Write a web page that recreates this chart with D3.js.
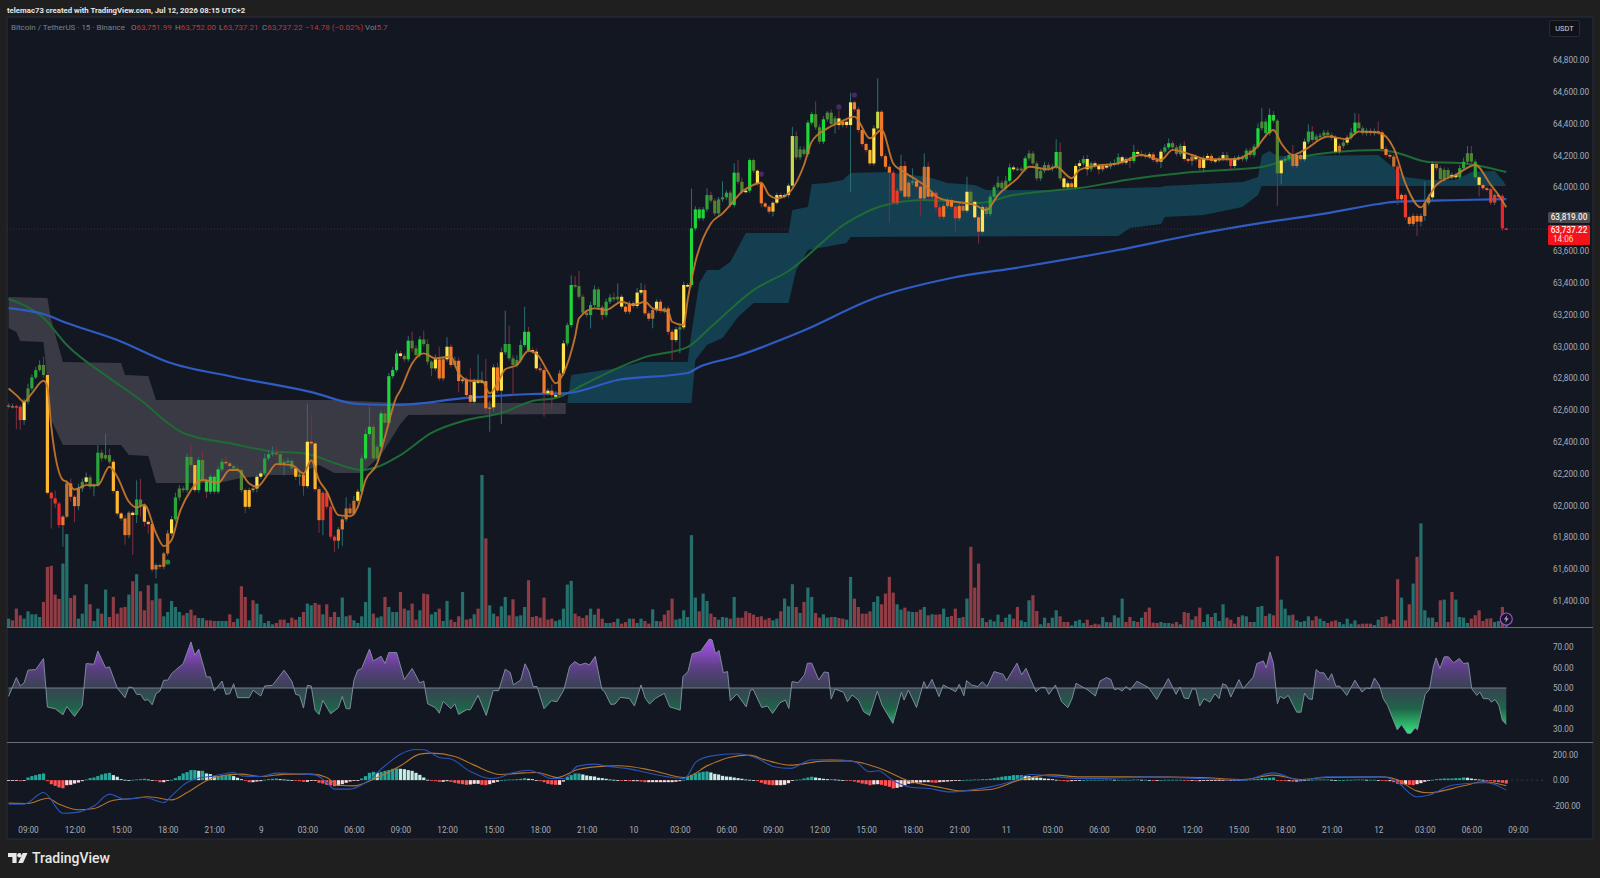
<!DOCTYPE html>
<html>
<head>
<meta charset="utf-8">
<title>BTCUSDT 15m</title>
<script src="https://cdn.jsdelivr.net/npm/d3@7"></script>
<style>
  html, body { margin: 0; padding: 0; background: #1f1f1f; }
  svg { display: block; }
  text { font-family: Roboto, "Noto Sans", sans-serif; }
</style>
</head>
<body>
<svg id="chart" width="1600" height="878"></svg>
<script>
// ---- 15-minute candles, one value per bar ----
const closes = [
62625,62625,62621,62537,62652,62736,62805,62851,62883,62820,
62080,62045,62013,61877,61930,62139,62055,61996,62107,62149,
62177,62118,62128,62332,62296,62317,62275,62091,61950,61919,
61814,61955,61940,62038,61996,61898,61883,61598,61626,61615,
61699,61825,61913,62051,62107,62097,62306,62254,62097,62286,
62160,62087,62181,62087,62227,62275,62265,62248,62233,62223,
62097,61992,62097,62107,62181,62202,62296,62323,62332,62323,
62260,62275,62281,62233,62181,62195,62122,62401,62390,62103,
61908,62080,61992,61804,61779,61850,61913,61982,61950,62030,
62087,62296,62449,62495,62296,62369,62579,62520,62813,62851,
62956,62940,62919,63036,62988,62946,63044,63015,62904,62862,
62919,62799,62919,62998,62883,62910,62782,62793,62694,62652,
62778,62782,62782,62611,62617,62868,62722,62963,63015,62925,
62883,62914,63009,63092,62977,62967,62862,62851,62705,62722,
62694,62694,62831,63019,63134,63386,63379,63312,63212,63197,
63260,63358,63245,63197,63281,63308,63296,63312,63250,63218,
63270,63254,63338,63354,63208,63174,63229,63281,63224,63239,
63092,63040,63107,63120,63386,63386,63742,63861,63805,63861,
63951,63916,63836,63924,63937,63966,63889,64092,64035,63972,
63979,64171,64104,64025,63899,63878,63847,63903,63951,63941,
63951,64010,64322,64188,64238,64209,64406,64460,64377,64287,
64427,64469,64398,64433,64391,64412,64391,64534,64490,64360,
64272,64234,64150,64370,64475,64196,64129,64092,63903,63979,
64134,63941,64029,64039,64004,63930,64129,63941,63966,63874,
63815,63882,63920,63878,63805,63882,63853,63972,63909,63811,
63721,63874,63832,63941,64000,64029,63993,64041,64125,64113,
64117,64113,64182,64213,64150,64056,64104,64140,64119,64129,
64222,64056,64000,64025,64000,64134,64151,64178,64113,64151,
64134,64113,64134,64130,64147,64151,64189,64155,64176,64166,
64222,64210,64203,64193,64207,64172,64161,64224,64251,64277,
64251,64210,64260,64178,64166,64193,64176,64122,64184,64197,
64166,64172,64180,64203,64176,64134,64182,64187,64176,64231,
64203,64256,64371,64413,64340,64455,64419,64088,64168,64180,
64203,64134,64203,64176,64287,64350,64298,64319,64325,64344,
64329,64312,64224,64260,64281,64312,64344,64407,64371,64340,
64356,64340,64354,64344,64241,64203,64193,64130,63925,63952,
63812,63770,63820,63784,63820,63900,63937,64147,64120,64050,
64109,64063,64078,64063,64120,64161,64214,64161,64063,64015,
63994,63988,63904,63952,63946,63742,63737];
const firstOpen = 62630;

// how far the high sits above the body, in USDT
const wickUp = [
15,15,10,10,20,30,20,20,30,52, 10,10,50,10,10,20,30,10,30,20,
30,15,10,48,20,135,40,15,10,10, 20,10,10,120,130,20,10,10,10,10,
10,20,20,30,20,15,20,85,20,20, 60,15,15,15,20,20,35,15,20,20,
15,10,15,10,15,15,30,25,40,40, 15,15,20,15,20,25,15,240,170,15,
15,10,10,10,10,15,15,70,30,30, 15,20,30,126,20,15,20,25,20,20,
20,15,15,30,57,20,20,55,30,10, 30,80,20,60,15,25,20,10,15,168,
20,168,60,140,40,20,30,30,210,115, 20,30,30,157,30,15,20,30,15,15,
40,25,20,20,15,60,55,95,15,15, 20,25,15,15,20,20,30,84,15,20,
15,15,30,45,35,15,15,15,15,10, 15,15,15,20,20,10,250,20,15,15,
42,20,15,15,100,15,15,60,80,25, 15,10,10,10,10,10,10,10,15,15,
10,15,58,30,20,20,15,15,80,20, 20,10,20,15,50,15,15,61,10,15,
15,10,10,20,210,10,15,15,15,15, 70,30,15,80,15,15,84,30,15,15,
15,15,15,15,15,15,15,95,15,15, 15,15,15,15,15,40,15,30,25,15,
10,10,15,20,15,15,15,20,15,15, 80,60,15,15,15,15,20,20,25,10,
15,15,15,15,15,25,25,10,15,15, 45,15,20,15,15,15,15,15,20,30,
15,15,15,30,10,15,15,15,15,15, 15,10,15,20,20,10,15,15,15,15,
15,15,30,84,20,40,25,10,10,15, 15,63,15,15,20,45,35,15,15,15,
15,15,15,15,15,15,30,60,55,15, 15,15,15,60,15,15,15,15,10,10,
10,10,15,15,15,136,20,15,15,15, 15,15,15,15,20,25,45,45,15,10,
15,10,10,10,10,10,5];

// how far the low sits below the body, in USDT
const wickDown = [
15,15,142,60,30,15,15,10,10,15, 10,190,30,20,135,10,30,100,25,20,
15,15,60,10,20,10,15,15,15,15, 60,20,250,50,65,30,60,15,56,15,
15,15,15,15,20,15,15,15,15,15, 15,40,15,15,15,15,15,15,15,15,
15,40,15,15,25,15,15,15,15,15, 25,70,15,20,20,55,60,15,15,15,
80,95,15,15,70,50,105,15,15,15, 15,15,15,15,15,15,15,15,15,15,
15,15,15,15,20,15,15,15,20,50, 15,15,15,15,15,15,70,15,15,30,
15,15,15,30,147,30,15,210,15,15, 190,15,15,15,15,15,15,15,147,15,
90,15,15,15,15,15,15,15,15,15, 84,15,15,30,15,15,15,15,15,15,
15,15,15,15,15,15,60,15,15,15, 20,126,15,150,15,15,15,15,15,15,
15,15,15,15,15,15,15,15,15,15, 10,15,15,15,25,10,15,30,10,10,
10,15,15,15,15,15,15,15,15,15, 15,15,15,60,30,15,20,420,15,15,
15,15,15,15,15,15,15,315,15,15, 15,15,15,15,15,110,15,15,15,30,
20,15,15,15,84,15,15,15,20,15, 74,15,15,15,15,15,15,15,15,15,
10,15,15,15,15,15,15,15,15,20, 15,15,15,15,15,15,15,15,40,15,
15,30,15,15,15,15,15,15,15,45, 15,15,15,15,15,15,15,40,15,15,
15,15,15,15,15,30,15,15,30,15, 15,15,15,15,15,20,15,15,15,15,
15,15,15,15,30,15,15,205,70,15, 15,15,15,15,15,15,15,15,15,15,
15,15,15,15,15,15,15,15,15,15, 15,15,15,15,15,15,15,15,35,15,
15,15,15,90,30,30,15,15,15,15, 15,15,15,15,15,15,15,15,15,73,
15,15,15,15,15,15,3];

// momentum shade of each candle: G strong up, g up, d fading, l lime, y yellow,
// a amber, o orange, b muted orange, r red, R strong red
const candleTones =
"drrrydggdd"+"arrRoboobd"+"yddgdddaaa"+"obygdaaobb"+"bbygddgdaG"+"dGGGGgbbdd"+"daaoyyggdd"+"ddgdadoyoa"+"orrRroobbb"+"ygGGddGdGG"+
"GydGddGddd"+"yooyoboooo"+"yyyobyoygg"+"ddgGGyyboy"+"oybygGdddd"+"gggbggddyo"+"oyyyoobyob"+"ooydyyGGGG"+"gddddgdGdd"+"yGdyoooayy"+
"yyldddGGdd"+"Gdddyoyyoo"+"ooaylooorr"+"bobdooboor"+"roborobydy"+"oydggdddGy"+"ddGddddddd"+"Gdyyoyygyd"+"yyoydbgyyo"+"GydoyooygG"+
"dddyobyoyy"+"oyyydryydg"+"dgGdgGGdyd"+"gbobyggddd"+"ddybdygGdd"+"ddddaoobro"+"roooobbybd"+"ddyyggddgy"+"oorroRR";

// ---- traded volume per bar: positive on rising bars, negative on falling bars ----
const signedVolumes = [
25,-20,-55,-35,25,47,38,38,30,-75, -180,-183,-97,-84,190,278,-87,-95,25,40,
128,-68,18,55,-40,112,-30,-90,-40,-58, -60,97,-137,158,-107,-50,-125,-80,130,-85,
32,45,78,60,45,-35,42,-52,-35,27, 27,-20,-20,-18,18,18,18,-38,-15,25,
-122,-90,20,-80,70,38,12,18,8,-12, -22,-22,12,-28,-22,30,-45,70,65,-72,
-67,38,-68,-30,-45,30,88,32,-35,20, 12,32,75,178,-40,28,32,-90,60,45,
45,-105,-55,50,-70,-22,50,-100,-98,38, 45,-55,18,78,-22,-15,-32,105,-22,-25,
38,-55,455,-265,65,40,-32,62,90,-35, -83,32,35,60,-140,-30,-33,-28,-88,-22,
-25,18,22,55,127,138,-40,-32,-27,-35, 55,37,-55,-25,12,12,-15,25,-10,-15,
25,-25,12,25,-18,-10,53,18,-17,-37, -50,-85,22,25,50,30,275,88,-47,100,
78,-40,-30,22,30,28,-25,90,-28,-28, -47,-42,-37,-30,-32,-22,-27,20,25,-47,
85,62,128,-60,42,-75,118,90,-42,-28, 38,28,-30,30,-27,-25,22,150,-85,-60,
-40,-40,-47,75,92,-68,-100,-150,-103,68, 52,-58,47,45,-45,-52,60,-35,38,-37,
-38,55,30,-33,-55,27,-30,85,-240,-118, -190,27,-15,22,17,37,-15,28,38,-25,
-60,20,15,80,-95,-48,8,28,-12,28, 50,-32,-15,-15,5,18,22,12,-22,-6,
-10,-8,30,15,-14,35,28,85,-15,-30, 18,-15,28,-45,-58,-13,-12,15,12,12,
-10,-15,8,-45,-42,22,-32,-58,15,38, -30,42,18,68,-28,-22,-10,-30,35,32,
-15,15,60,63,-33,40,-35,-212,82,55, 35,-37,20,15,18,32,-20,-32,25,18,
-12,-17,-20,15,8,25,10,20,-8,-10, -10,-10,6,22,-30,-32,-10,-22,-143,88,
-20,-68,130,-210,310,50,28,28,-15,-80, 82,-15,-105,82,30,28,12,-25,-35,-50,
-18,-25,-26,15,18,-60,10];

// ---- moving averages, as [bar, price] readings ----
const slowAverage = [[0,63241],[9,63204],[15,63147],[28,63040],[41,62902],[58,62808],[78,62713],[90,62638],[100,62632],[118,62676],[135,62701],[144,62707],[157,62789],[175,62833],[178,62871],[187,62933],[204,63090],[224,63310],[243,63430],[261,63499],[286,63606],[305,63700],[323,63776],[340,63838],[353,63895],[357,63908],[374,63920],[386,63926]];

const midAverage = [[0,63298],[9,63178],[15,63009],[26,62801],[35,62644],[41,62519],[45,62456],[58,62387],[67,62343],[77,62324],[84,62267],[91,62223],[95,62242],[101,62317],[109,62456],[118,62537],[127,62581],[135,62657],[141,62676],[149,62770],[157,62864],[164,62933],[175,62996],[181,63122],[192,63354],[201,63474],[216,63776],[225,63882],[236,63920],[250,63901],[259,63951],[268,63977],[276,63995],[288,64046],[305,64096],[323,64128],[331,64184],[353,64234],[357,64222],[366,64159],[374,64153],[386,64096]];

const fastAverage = [[0,62736],[2,62694],[4,62652],[6,62705],[9,62784],[10,62746],[11,62495],[14,62160],[15,62149],[17,62101],[20,62128],[23,62128],[26,62244],[28,62181],[31,62024],[33,61988],[35,62003],[38,61825],[40,61745],[42,61783],[44,61950],[47,62097],[50,62160],[54,62143],[57,62223],[59,62223],[62,62139],[64,62118],[67,62202],[69,62260],[73,62254],[76,62202],[78,62285],[80,62160],[82,62087],[85,61940],[88,61933],[90,61992],[92,62160],[95,62265],[97,62432],[100,62684],[101,62726],[104,62893],[107,62956],[110,62925],[114,62935],[116,62831],[119,62784],[122,62784],[124,62705],[126,62768],[128,62856],[131,62883],[134,62973],[136,62956],[139,62841],[141,62768],[143,62831],[146,63061],[147,63176],[151,63239],[154,63229],[158,63281],[161,63260],[164,63281],[166,63239],[170,63218],[171,63155],[174,63134],[175,63291],[177,63530],[181,63773],[184,63836],[186,63889],[189,63972],[191,64004],[194,64029],[196,63951],[198,63930],[201,63962],[205,64140],[207,64287],[211,64370],[214,64406],[218,64444],[222,64308],[225,64360],[228,64150],[230,64108],[233,64062],[236,64014],[240,63930],[244,63909],[249,63889],[252,63857],[255,63951],[260,64056],[263,64129],[268,64113],[270,64129],[274,64057],[276,64109],[280,64134],[286,64151],[292,64203],[297,64172],[300,64235],[305,64203],[309,64176],[316,64176],[321,64235],[326,64360],[328,64277],[331,64203],[334,64235],[340,64319],[345,64302],[348,64350],[353,64344],[357,64245],[360,64025],[364,63874],[366,63941],[368,64015],[373,64078],[378,64140],[382,64015],[384,63952],[386,63874]];

// ---- trend cloud edges, as [bar, price] readings ----
const bearCloudUpper = [[0,63310],[10,63304],[11,63166],[14,62902],[29,62896],[30,62820],[36,62814],[38,62663],[84,62663],[101,62644],[143.6,62644]];
const bearCloudLower = [[0,63116],[2,63090],[3,63034],[9,63028],[11,62537],[14,62380],[29,62380],[31,62317],[36,62311],[38,62142],[54,62142],[60,62173],[67,62192],[74,62192],[80,62255],[84,62204],[91,62204],[96,62317],[101,62512],[103,62569],[143.6,62575]];
const bullCloudUpper = [[144,62644],[145,62820],[157,62864],[163,62902],[175,62902],[176,63084],[178,63398],[180,63480],[183,63480],[186,63530],[190,63713],[201,63713],[202,63857],[206,63876],[207,64021],[211,64027],[215,64046],[217,64090],[226,64096],[237,64065],[242,64027],[249,64014],[252,63983],[271,63983],[297,64002],[298,64008],[318,64033],[322,64065],[323,64203],[325,64228],[327,64197],[353,64203],[357,64121],[360,64065],[366,64046],[373,64046],[377,64096],[383,64103],[385,64046],[386,64008]];
const bullCloudLower = [[144,62644],[176,62644],[177,62915],[180,63009],[184,63053],[188,63185],[192,63273],[201,63273],[203,63480],[206,63606],[216,63650],[217,63688],[286,63694],[289,63744],[297,63769],[298,63813],[308,63826],[318,63876],[322,63952],[323,64008],[386,64008]];

// swing markers printed by the overlay
const swingHighs = [[194,64083],[214,64505],[218,64580]];
const swingLows = [[41,61645]];

// ---- RSI, as [bar, value] turning points ----
const rsiPoints = [[0,45.9],[2,55.1],[3,51],[4,52.5],[5,58.7],[7,59],[9,64.4],[10,40.7],[12,39.9],[14,36.9],[15,41],[17,36.1],[19,41.5],[20,61.9],[22,61.6],[23,68],[25,59.8],[26,60.3],[28,50],[30,45.3],[31,50.5],[32,50.2],[33,46.9],[34,46.9],[35,44],[36,44.3],[37,41.8],[38,47.2],[39,48.5],[40,53.8],[41,53.8],[42,57],[43,58.7],[45,61.9],[47,72.5],[48,66],[49,69],[51,55.4],[52,55.4],[53,48.5],[55,53.4],[56,46.9],[57,47.2],[58,52.1],[59,45.3],[62,45.3],[63,48.9],[65,46.1],[66,51],[68,51.3],[71,58.7],[73,53.3],[74,46.9],[75,46.4],[76,40.2],[77,51.3],[78,51],[79,39.1],[80,37.1],[81,44],[83,37.4],[85,40.4],[86,45.9],[87,39.9],[88,39.9],[89,53.8],[90,58.7],[91,59.5],[93,69],[94,63.2],[96,65.5],[97,61.9],[98,67.3],[100,67.3],[102,54.1],[104,59.5],[106,52.5],[107,53.4],[108,42.3],[110,40.4],[111,37.7],[112,43.5],[114,39.9],[115,42.3],[116,37.1],[118,39.4],[119,39.4],[121,46.4],
[123.1,36.6],[124.9,48.7],[126.3,48.7],[128,59.2],[129.3,57.5],[130.1,51.5],[132,53.9],[133.1,61.8],[134.1,58],[135.2,50.7],[136.2,50.7],[138,39.9],[139.9,43.8],[141.3,43.3],[143.1,49],[144.6,60.5],[145.9,62.9],[147.2,61.3],[148.7,62.1],[149.7,61.3],[151.2,65.4],[152.9,49.3],[153.6,48.2],[155.2,42],[156.3,42.2],[157.7,45.4],[160,44.9],[161.3,41.2],[163,51.5],[164.1,44.9],[165.2,42.2],[166.7,44.9],[169,47.4],[170.4,40.8],[173.1,39.2],[173.8,55.6],[175.1,58],[176.2,66.7],[178.3,67.8],[180.6,73.9],[181.3,73.5],[182.2,66.7],[183.1,68.3],[184.2,57.5],[185.3,58],[186,43.8],[187.7,47.1],[190.1,40.8],[191.2,49],[191.9,49.3],[194.1,40.5],[195.6,41.2],[196.9,37.6],[198.8,42.8],[200.2,44.1],[201.1,40],[201.9,53.1],[203.5,52.6],[205.1,56.4],[205.9,62.1],[207,62.1],[208.8,53.9],[210.2,57.8],[211.3,57.5],[212,44.6],[213,49.5],[215.2,47.9],[216.2,43.3],[217.4,46.6],[219,44.1],[220.4,38.4],[221.9,36.6],[223.9,48.5],[225.1,41.7],[227.9,32.7],[230.1,47.9],[230.8,44.1],[231.9,49],[234,40.5],[235.9,53.1],[236.7,49.8],[238,54.2],[239.8,45.8],[240.9,51.5],[244.1,48.2],[245,51.8],[246.2,46.2],[246.9,53.6],[248.2,51.5],[249.8,50.7],[250.9,53.1],[252.2,50.7],[254,58],[256.3,56.7],[257.2,53.6],[259.9,62.1],[261.1,56.4],[262.2,59.6],[264.8,48.2],[266.1,50.3],[267.2,50.3],[268.1,46.9],[269.8,51.5],[271.4,43.3],[273,40.4],[274.1,44.9],[275.1,52.3],[278.2,49],[280.1,46.1],
[281.3,53.4],[283,55.1],[284.1,54.1],[285,49.2],[286,49.7],[287,48.5],[288,50.8],[289,48.9],[290.8,53.3],[293.8,50.2],[295.9,44.4],[298.9,54.6],[300.9,46.9],[301.9,50.5],[303,45.1],[304.1,44.8],[305.1,49.7],[306,49.3],[307,41.2],[308.1,44.8],[309.6,43.1],[310.9,47.2],[312,44.8],[312.9,52.1],[313.9,51.3],[315,45.6],[317.1,54.1],[318.2,49.7],[320.8,55.4],[321.7,61.9],[323.4,63.2],[324.1,59.8],[325.1,67.6],[326,61.9],[327,42.3],[327.7,45.9],[328.7,44.8],[329.8,46.4],[332,38.2],[333.1,38.2],[334,47.5],[335,44.8],[336,44.4],[337,59],[338,57.4],[339,57.4],[340.1,53.8],[341,57],[342.1,50.8],[343,51],[344.9,46.4],[347,53.8],[348.8,48],[350,50],[351,49.7],[352,54.9],[353.3,51.3],[354.3,44.8],[355.4,41.5],[357.9,29.6],[359,32.2],[360.5,27.9],[361.4,27.9],[362.5,30.6],[363.1,29.6],[365.1,46.9],[366.2,49.3],[367.2,60.3],[367.9,64.7],[368.9,59.5],[370,65.2],[371.1,65.2],[372.4,62.3],[373.9,64.4],[375,61.9],[376.2,62.3],[377.1,49.7],[378.4,46.4],[379.2,48],[380.1,44.8],[381.4,44.8],[382.2,43.1],[383.1,44.4],[384.1,41.5],[385,34.2],[386,32.2]];

// ---- MACD line, signal line and histogram ----
const macdLine = [[0,-190],[4,-190],[9,-98],[14,-262],[17,-257],[22,-204],[26,-111],[30,-151],[35,-138],[40,-177],[42,-124],[46,-19],[48,8],[53,34],[58,61],[60,34],[65,29],[69,56],[73,53],[79,42],[82,-19],[84,-71],[88,-71],[92,-19],[97,114],[101,206],[105,243],[107,241],[111,180],[114,167],[119,69],[124.1,13],[126.3,19],[129.9,58],[133.9,79],[136.8,53],[139.9,13],[143.1,13],[146.7,111],[151,127],[154.1,111],[159.3,93],[164.6,58],[169.9,26],[174.2,13],[177.2,145],[180.9,190],[187.8,209],[193,172],[197.3,106],[201.5,93],[206.7,159],[212,164],[218.2,145],[221.9,66],[224.1,74],[227.8,0],[233,-58],[237.2,-66],[242.5,-93],[247.7,-79],[253,-53],[258.3,-13],[263.5,45],[268.8,32],[276.2,13],[281.3,13],[293.3,26],[307,13],[318.2,0],[326,58],[332.8,0],[339.7,26],[354.3,26],[357.8,-13],[362.9,-132],[365.9,-119],[371.5,-45],[375.8,-26],[380.9,-21],[386,-79]];

const signalLine = [[0,-182],[5,-185],[10,-143],[13,-190],[18,-235],[22,-225],[27,-159],[32,-145],[36,-132],[42,-156],[46,-98],[51,-5],[54,29],[60,48],[65,29],[72,48],[78,48],[82,21],[85,-40],[89,-45],[94,8],[101,114],[106,206],[109,214],[115,188],[120,119],[126.8,45],[133,58],[136.2,61],[141.5,21],[146.7,85],[154.1,111],[157.3,114],[165.7,79],[174.2,21],[180.4,119],[185.7,180],[190.9,198],[195.1,159],[201.5,119],[209.9,151],[216.2,153],[224.6,93],[231.9,-5],[239.3,-53],[245.6,-85],[253,-74],[260.4,0],[268.8,42],[276.2,26],[281.3,26],[293.3,26],[307,21],[318.2,5],[326,40],[332.8,5],[339.7,21],[354.3,26],[357.8,5],[362.9,-85],[365.9,-100],[375,-45],[380.1,-13],[386,-45]];

const macdHistogram = [
-5,-5,-5,-8,-3,21,32,40,48,53, -8,-32,-45,-58,-64,-40,-37,-27,-19,-8,
5,16,21,32,45,53,58,40,27,8, 3,0,3,5,8,11,5,0,-5,-16,
-16,-5,3,16,32,53,64,80,80,74, 74,53,48,32,32,37,37,40,32,19,
8,-5,-16,-16,-11,-8,3,8,11,13, 8,5,3,0,-3,-8,-13,-13,-5,-3,
-21,-27,-37,-42,-48,-45,-32,-21,-11,-3, -3,13,32,58,66,58,66,74,80,90,
93,90,87,80,74,58,42,21,3,-3, -8,-13,-13,-8,-13,-21,-27,-32,-37,-34,
-29,-29,-37,-40,-32,-21,-13,0,3,5, 5,8,11,16,11,8,0,-8,-16,-29,
-34,-37,-37,-11,27,40,53,53,45,37, 32,29,19,16,11,5,3,0,-5,-5,
-8,-8,-8,-11,-16,-16,-16,-16,-16,-16, -16,-16,-13,-8,3,27,42,53,61,66,
69,61,50,45,34,29,27,21,16,11, 5,3,0,-8,-21,-32,-37,-40,-40,-40,
-37,-24,-3,3,5,13,21,27,21,16, 11,8,8,5,3,0,-3,-5,-11,-19,
-27,-32,-40,-34,-32,-37,-45,-53,-66,-61, -53,-42,-29,-24,-21,-19,-16,-16,-19,-21,
-16,-13,-11,-8,-5,-3,0,3,3,5, 5,8,8,11,16,21,27,32,34,40,
40,40,34,32,24,21,19,13,11,8, 3,-3,-8,-11,-8,-5,-3,0,3,3,
3,3,3,5,5,3,3,3,3,3, 5,5,3,3,0,-3,-3,0,3,3,
3,3,3,-3,-5,-5,-8,-8,-5,-5, -5,-5,-3,-3,-5,-5,-3,-3,0,3,
5,8,11,16,16,19,21,-3,-5,-8, -8,-11,-11,-8,-3,0,3,5,5,5,
5,3,0,0,0,3,3,5,5,5, 3,3,3,0,-5,-8,-8,-16,-29,-34,
-34,-37,-40,-32,-24,-13,-5,3,8,11, 13,13,13,16,16,21,19,13,8,5,
3,-3,-8,-13,-16,-21,-27];

// ---- axis labels ----
const priceTicks = d3.range(61400, 64801, 200).filter(p => p !== 63800);
const rsiTicks = [70, 60, 50, 40, 30];
const macdTicks = [200, 0, -200];
const timeLabels = ["09:00","12:00","15:00","18:00","21:00","9","03:00","06:00","09:00","12:00","15:00","18:00","21:00","10","03:00","06:00","09:00","12:00","15:00","18:00","21:00","11","03:00","06:00","09:00","12:00","15:00","18:00","21:00","12","03:00","06:00","09:00"];
const firstTimeTickBar = 5, barsPerTimeTick = 12;

// ---- text strip above the price pane ----
const symbolTitle = "Bitcoin / TetherUS · 15 · Binance";
const ohlcLegend = [["O","63,751.99",131],["H","63,752.00",175],["L","63,737.21",219],["C","63,737.22",262]];
const changeLegend = "−14.78 (−0.02%)";
const volumeLegend = "5.7";
const lastPrice = 63737.22, closeMarker = 63819;

const toneColor = {G:"#1fd63b", g:"#2aa53a", d:"#4f8636", l:"#c6d84c", y:"#ffe44f", a:"#ffb730",
                   o:"#f37a2b", b:"#c27432", r:"#e93b2b", R:"#e9222b"};

// ---- layout and scales ----
const frame = {left: 7, right: 1593, top: 17, bottom: 839};
const svg = d3.select("#chart");

const x = d3.scaleLinear().domain([0, 386]).range([8.6, 8.6 + 386 * 3.88]);
const yPrice = d3.scaleLinear().domain([61400, 64800]).range([601, 60]);
const yVolume = d3.scaleLinear().domain([0, 455]).range([627, 475]);
const yRsi = d3.scaleLinear().domain([30, 70]).range([729, 647]);
const yMacd = d3.scaleLinear().domain([-200, 200]).range([805.4, 754.9]);

const opens = closes.map((c, i) => i ? closes[i - 1] : firstOpen);
const bars = closes.map((c, i) => {
  const o = opens[i];
  return {i, o, c, h: Math.max(o, c) + wickUp[i], l: Math.min(o, c) - wickDown[i], tone: candleTones[i]};
});

// backgrounds and pane rules
svg.append("rect").attr("width", 1600).attr("height", 878).attr("fill", "#1f1f1f");
svg.append("rect").attr("x", frame.left).attr("y", frame.top)
   .attr("width", frame.right - frame.left).attr("height", frame.bottom - frame.top)
   .attr("fill", "#131722").attr("stroke", "#2a2e39").attr("stroke-width", 1);
[627.5, 742.5].forEach(yy => svg.append("line").attr("x1", frame.left).attr("x2", frame.right)
   .attr("y1", yy).attr("y2", yy).attr("stroke", "#6a6d78").attr("stroke-width", 1.2));

// volume columns along the floor of the price pane
svg.append("g").selectAll("rect").data(signedVolumes).join("rect")
   .attr("x", (v, i) => x(i) - 1.6).attr("width", 3.2)
   .attr("y", v => yVolume(Math.abs(v)))
   .attr("height", v => yVolume(0) - yVolume(Math.abs(v)))
   .attr("fill", v => v >= 0 ? "#25706c" : "#8f3c44");

// trend cloud
const priceLine = d3.line().x(d => x(d[0])).y(d => yPrice(d[1]));
const cloud = svg.append("g");
cloud.append("path").attr("d", priceLine(bearCloudUpper.concat(bearCloudLower.slice().reverse())) + "Z").attr("fill", "#393a44");
cloud.append("path").attr("d", priceLine(bullCloudUpper.concat(bullCloudLower.slice().reverse())) + "Z").attr("fill", "#143f50");

// slower averages sit behind the candles
const smoothLine = d3.line().x(d => x(d[0])).y(d => yPrice(d[1])).curve(d3.curveMonotoneX);
svg.append("path").attr("d", smoothLine(midAverage)).attr("fill", "none").attr("stroke", "#1f6b35").attr("stroke-width", 2);
svg.append("path").attr("d", smoothLine(slowAverage)).attr("fill", "none").attr("stroke", "#2e5cc2").attr("stroke-width", 2.2);

// last-price guide
svg.append("line").attr("x1", frame.left).attr("x2", 1548).attr("y1", yPrice(lastPrice)).attr("y2", yPrice(lastPrice))
   .attr("stroke", "#4d2a33").attr("stroke-width", 1).attr("stroke-dasharray", "1,2");

// candles
const candleG = svg.append("g");
candleG.selectAll("line").data(bars).join("line")
   .attr("x1", d => x(d.i)).attr("x2", d => x(d.i))
   .attr("y1", d => yPrice(d.h)).attr("y2", d => yPrice(d.l))
   .attr("stroke", d => d.c >= d.o ? "#2c6e72" : "#7c3042").attr("stroke-width", 1);
candleG.selectAll("rect").data(bars).join("rect")
   .attr("x", d => x(d.i) - 1.6).attr("width", 3.2)
   .attr("y", d => yPrice(Math.max(d.o, d.c)))
   .attr("height", d => Math.max(1.6, Math.abs(yPrice(d.o) - yPrice(d.c))))
   .attr("fill", d => toneColor[d.tone]);

// swing markers
svg.append("g").selectAll("circle").data(swingHighs).join("circle")
   .attr("cx", d => x(d[0])).attr("cy", d => yPrice(d[1])).attr("r", 2.6).attr("fill", "#4b2668");
svg.append("g").selectAll("circle").data(swingLows).join("circle")
   .attr("cx", d => x(d[0])).attr("cy", d => yPrice(d[1])).attr("r", 2.6).attr("fill", "#1e8a40");

// fast average runs over the candles
svg.append("path").attr("d", smoothLine(fastAverage)).attr("fill", "none").attr("stroke", "#c9782c").attr("stroke-width", 1.9).attr("stroke-opacity", 0.92);

// alert badge at the last bar
const badge = svg.append("g").attr("transform", `translate(${x(386)},619)`);
badge.append("circle").attr("r", 6).attr("fill", "#131722").attr("stroke", "#9a4fc4").attr("stroke-width", 1.2);
badge.append("path").attr("d", "M1-4L-2.4 0.6H-0.3L-1 4L2.4-0.8H0.3Z").attr("fill", "#b98ad6");

// RSI pane: gradient runs through the 50 line from purple to green
const defs = svg.append("defs");
const rsiGradient = defs.append("linearGradient").attr("id", "rsiFill")
   .attr("gradientUnits", "userSpaceOnUse").attr("x1", 0).attr("x2", 0)
   .attr("y1", yRsi(73)).attr("y2", yRsi(28));
[[73,"#a852e8"],[60,"#5c3f85"],[50,"#384252"],[40,"#1e6448"],[28,"#36e27c"]].forEach(([v, c]) =>
  rsiGradient.append("stop").attr("offset", (73 - v) / 45).attr("stop-color", c));
svg.append("path")
   .attr("d", d3.area().x(d => x(d[0])).y0(yRsi(50)).y1(d => yRsi(d[1]))(rsiPoints))
   .attr("fill", "url(#rsiFill)");
svg.append("line").attr("x1", x(0)).attr("x2", x(386)).attr("y1", yRsi(50)).attr("y2", yRsi(50))
   .attr("stroke", "#6f8088").attr("stroke-width", 1);
svg.append("path").attr("d", d3.line().x(d => x(d[0])).y(d => yRsi(d[1]))(rsiPoints))
   .attr("fill", "none").attr("stroke", "#7b8a9b").attr("stroke-width", 1);

// MACD pane
svg.append("line").attr("x1", x(386)).attr("x2", 1545).attr("y1", yMacd(0)).attr("y2", yMacd(0))
   .attr("stroke", "#363a45").attr("stroke-width", 1).attr("stroke-dasharray", "2,3");
svg.append("g").selectAll("rect").data(macdHistogram).join("rect")
   .attr("x", (v, i) => x(i) - 1.6).attr("width", 3.2)
   .attr("y", v => v >= 0 ? yMacd(v) : yMacd(0))
   .attr("height", v => Math.max(0.8, Math.abs(yMacd(v) - yMacd(0))))
   .attr("fill", (v, i) => {
     const prev = i ? macdHistogram[i - 1] : v;
     if (v >= 0) return v >= prev ? "#26a69a" : "#c6ece6";
     return v < prev ? "#ff5252" : "#ffd9dc";
   });
const macdPath = d3.line().x(d => x(d[0])).y(d => yMacd(d[1])).curve(d3.curveMonotoneX);
svg.append("path").attr("d", macdPath(signalLine)).attr("fill", "none").attr("stroke", "#b5742c").attr("stroke-width", 1.1);
svg.append("path").attr("d", macdPath(macdLine)).attr("fill", "none").attr("stroke", "#2a55b8").attr("stroke-width", 1.1);

// axes
function styleAxis(g) {
  g.select(".domain").remove();
  g.selectAll(".tick line").remove();
  g.selectAll("text").attr("fill", "#a9acb5").style("font-size", "8.2px").style("font-family", "Roboto, sans-serif");
}
const axisX = 1553;
svg.append("g").attr("transform", `translate(${axisX},0)`)
   .call(d3.axisRight(yPrice).tickValues(priceTicks).tickSize(0).tickPadding(0).tickFormat(d3.format(",.2f"))).call(styleAxis);
svg.append("g").attr("transform", `translate(${axisX},0)`)
   .call(d3.axisRight(yRsi).tickValues(rsiTicks).tickSize(0).tickPadding(0).tickFormat(d3.format(".2f"))).call(styleAxis);
svg.append("g").attr("transform", `translate(${axisX},0)`)
   .call(d3.axisRight(yMacd).tickValues(macdTicks).tickSize(0).tickPadding(0).tickFormat(v => (v < 0 ? "-" : "") + d3.format(".2f")(Math.abs(v)))).call(styleAxis);
const timeBars = timeLabels.map((t, n) => firstTimeTickBar + n * barsPerTimeTick);
const xTime = d3.scaleLinear().domain(x.domain()).range(x.range());
svg.append("g").attr("transform", "translate(0,827)")
   .call(d3.axisBottom(xTime).tickValues(timeBars).tickSize(0).tickPadding(0)
        .tickFormat((b, n) => timeLabels[n])).call(styleAxis);

// price boxes on the right edge
const boxes = svg.append("g");
boxes.append("rect").attr("x", 1548).attr("y", 212).attr("width", 42).attr("height", 11).attr("rx", 1.5).attr("fill", "#4a4a4e");
boxes.append("text").attr("x", 1569).attr("y", 220.3).attr("text-anchor", "middle").attr("fill", "#f0f0f0")
     .attr("font-size", 8.2).attr("font-weight", 500).text(d3.format(",.2f")(closeMarker));
boxes.append("rect").attr("x", 1548).attr("y", 225).attr("width", 42).attr("height", 20).attr("rx", 1.5).attr("fill", "#f2141a");
boxes.append("text").attr("x", 1569).attr("y", 232.8).attr("text-anchor", "middle").attr("fill", "#ffeaea")
     .attr("font-size", 8.2).attr("font-weight", 500).text(d3.format(",.2f")(lastPrice));
boxes.append("text").attr("x", 1553).attr("y", 241.8).attr("fill", "#ffdede")
     .attr("font-size", 8.2).text("14:06");
svg.append("rect").attr("x", 1549.5).attr("y", 20.5).attr("width", 30).attr("height", 16).attr("rx", 2)
   .attr("fill", "#0f1219").attr("stroke", "#2a2d36");
svg.append("text").attr("x", 1564.5).attr("y", 31).attr("text-anchor", "middle").attr("fill", "#d1d4dc")
   .attr("font-size", 7.4).text("USDT");

// title line and OHLC legend
svg.append("text").attr("x", 7).attr("y", 12.5).attr("fill", "#e6e6e6").attr("font-size", 7.75).attr("font-weight", 700)
   .text("telemac73 created with TradingView.com, Jul 12, 2026 08:15 UTC+2");
const legendY = 30;
const legendDim = "#7d828e", legendRed = "#b8383f";
svg.append("text").attr("x", 11).attr("y", legendY).attr("fill", legendDim).attr("font-size", 8).text(symbolTitle);
ohlcLegend.forEach(([k, v, lx]) => {
  const t = svg.append("text").attr("x", lx).attr("y", legendY).attr("font-size", 8);
  t.append("tspan").attr("fill", legendDim).text(k);
  t.append("tspan").attr("fill", legendRed).text(v);
});
svg.append("text").attr("x", 305).attr("y", legendY).attr("fill", legendRed).attr("font-size", 8).text(changeLegend);
const volText = svg.append("text").attr("x", 365).attr("y", legendY).attr("font-size", 8);
volText.append("tspan").attr("fill", legendDim).text("Vol");
volText.append("tspan").attr("fill", legendRed).text(volumeLegend);

// brand mark in the footer
const brand = svg.append("g").attr("transform", "translate(8,853)").attr("fill", "#e8e8e8");
brand.append("path").attr("d", "M0 0H8.6V10H4.4V4H0Z");
brand.append("circle").attr("cx", 11.4).attr("cy", 2.2).attr("r", 2.2);
brand.append("path").attr("d", "M19.5 0L15 10H10.2L14.8 0Z");
svg.append("text").attr("x", 32).attr("y", 863).attr("fill", "#e8e8e8").attr("font-size", 14).attr("font-weight", 500)
   .attr("font-family", "Inter, Roboto, sans-serif").text("TradingView");
</script>
</body>
</html>
